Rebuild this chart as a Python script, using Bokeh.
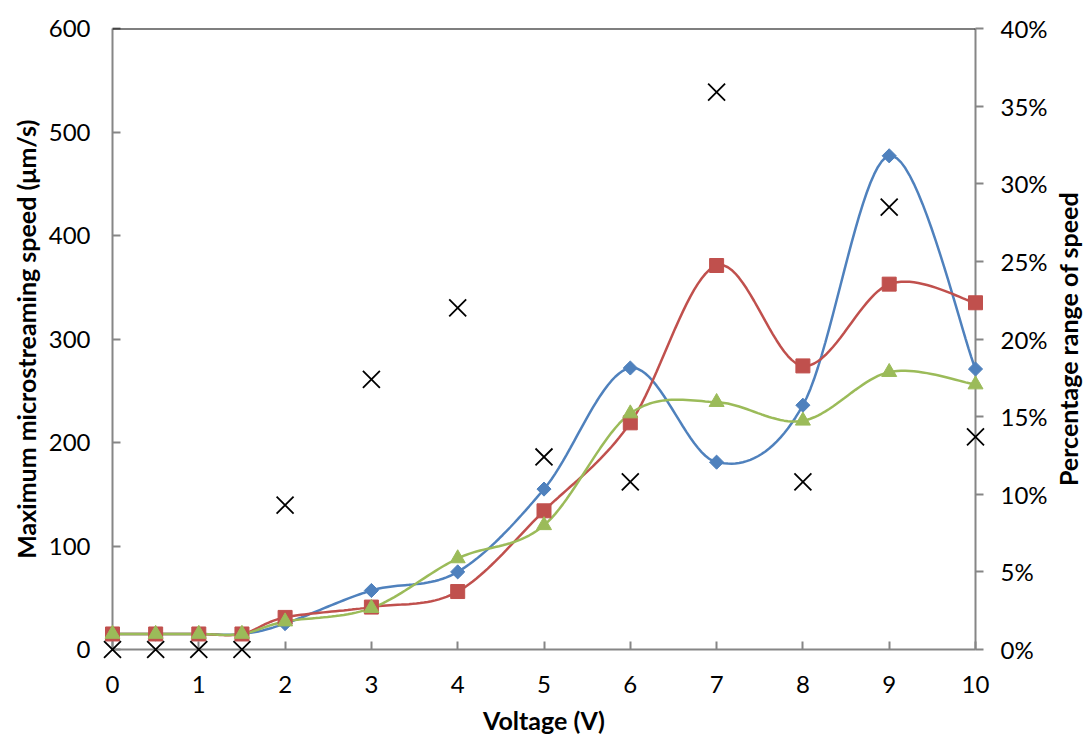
import numpy as np
from bokeh.plotting import figure
from bokeh.models import Range1d, LinearAxis, Span, NumeralTickFormatter, FixedTicker
from bokeh.core.properties import value
from bokeh.embed import file_html
from bokeh.resources import INLINE

# ---- data ----
voltage = [0, 0.5, 1, 1.5, 2, 3, 4, 5, 6, 7, 8, 9, 10]
speed_blue = [15, 15, 15, 15, 25, 57, 75, 155, 272, 181, 236, 477, 271]
speed_red = [15, 15, 15, 15, 31, 41, 56, 134, 219, 371, 274, 353, 335]
speed_green = [15, 15, 15, 15, 27, 40, 88, 120, 228, 239, 221, 268, 256]
pct_range = [0, 0, 0, 0, 0.093, 0.174, 0.220, 0.124, 0.108, 0.359, 0.108, 0.285, 0.137]
x_ticks = [0, 1, 2, 3, 4, 5, 6, 7, 8, 9, 10]
left_ticks = [0, 100, 200, 300, 400, 500, 600]
right_ticks = [0, 0.05, 0.10, 0.15, 0.20, 0.25, 0.30, 0.35, 0.40]
right_title = "Percentage range of speed"

BLUE = "#4F81BD"
RED = "#C0504D"
GREEN = "#9BBB59"
AXIS_GRAY = "#868686"
FONT = "Lato"


def smooth(xs, ys, n=24):
    """Catmull-Rom style smoothing (like a spreadsheet's smoothed line)."""
    xs = np.asarray(xs, float)
    ys = np.asarray(ys, float)
    px = np.concatenate([[xs[0]], xs, [xs[-1]]])
    py = np.concatenate([[ys[0]], ys, [ys[-1]]])
    outx, outy = [], []
    t = np.linspace(0, 1, n)
    for i in range(1, len(px) - 2):
        p0 = np.array([px[i], py[i]])
        p3 = np.array([px[i + 1], py[i + 1]])
        c1 = p0 + (np.array([px[i + 1], py[i + 1]]) - np.array([px[i - 1], py[i - 1]])) / 6.0
        c2 = p3 - (np.array([px[i + 2], py[i + 2]]) - np.array([px[i], py[i]])) / 6.0
        b = ((1 - t) ** 3)[:, None] * p0 + (3 * (1 - t) ** 2 * t)[:, None] * c1 \
            + (3 * (1 - t) * t ** 2)[:, None] * c2 + (t ** 3)[:, None] * p3
        outx.extend(b[:, 0].tolist())
        outy.extend(b[:, 1].tolist())
    return outx, outy


p = figure(frame_width=863, frame_height=621, output_backend="svg", toolbar_location=None,
           x_range=Range1d(0, 10), y_range=Range1d(0, 600),
           min_border_left=112, min_border_right=110, min_border_top=28, min_border_bottom=0)
p.outline_line_color = None
p.xgrid.visible = False
p.ygrid.visible = False
p.background_fill_color = "white"
p.border_fill_color = "white"

p.extra_y_ranges = {"pct": Range1d(0, 0.4)}

# x axis
xa = p.xaxis[0]
xa.ticker = FixedTicker(ticks=x_ticks)
xa.axis_label = "Voltage (V)"
# y axis left
ya = p.yaxis[0]
ya.ticker = FixedTicker(ticks=left_ticks)
ya.axis_label = "Maximum microstreaming speed (μm/s)"

ra = LinearAxis(y_range_name="pct", ticker=FixedTicker(ticks=right_ticks),
                formatter=NumeralTickFormatter(format="0%"))
p.add_layout(ra, "right")

for ax in (xa, ya, ra):
    ax.axis_line_color = AXIS_GRAY
    ax.axis_line_width = 2
    ax.major_tick_line_color = AXIS_GRAY
    ax.major_tick_line_width = 2
    ax.minor_tick_line_color = None
    ax.major_label_text_font = FONT
    ax.major_label_text_font_size = "24px"
    ax.major_label_text_color = "black"
    ax.axis_label_text_font = FONT
    ax.axis_label_text_font_size = "25px"
    ax.axis_label_text_font_style = "bold"
    ax.axis_label_text_color = "black"

xa.major_tick_in = 8
xa.major_tick_out = 0
xa.major_label_standoff = 26
xa.axis_label_standoff = 9
ya.major_tick_in = 8
ya.major_tick_out = 0
ya.major_label_standoff = 22
ya.axis_label_standoff = 5
ra.major_tick_in = 0
ra.major_tick_out = 8
ra.major_label_standoff = 17

p.add_layout(Span(location=600, dimension="width", line_color="black", line_width=2))

# series
for ys, col, marker, size, ang in [(speed_blue, BLUE, "square", 10, np.pi / 4),
                                   (speed_red, RED, "square", 14, 0),
                                   (speed_green, GREEN, "triangle", 15, 0)]:
    sx, sy = smooth(voltage, ys)
    p.line(sx, sy, line_color=col, line_width=2.5)
    p.scatter(voltage, ys, marker=marker, size=size, angle=ang,
              fill_color=col, line_color=col, level="overlay")

p.scatter(voltage, pct_range, y_range_name="pct", marker="x", size=24,
          line_color="black", line_width=1.8, level="overlay")

# right axis title (reads bottom-to-top), drawn outside the frame
p.text(x=[11.075], y=[300], text=[right_title], angle=np.pi / 2,
       text_align=value("center"), text_baseline=value("middle"),
       text_font=value(FONT), text_font_size=value("25px"),
       text_font_style=value("bold"), text_color=value("black"), level="overlay")

open("out.html", "w").write(file_html(p, INLINE))
